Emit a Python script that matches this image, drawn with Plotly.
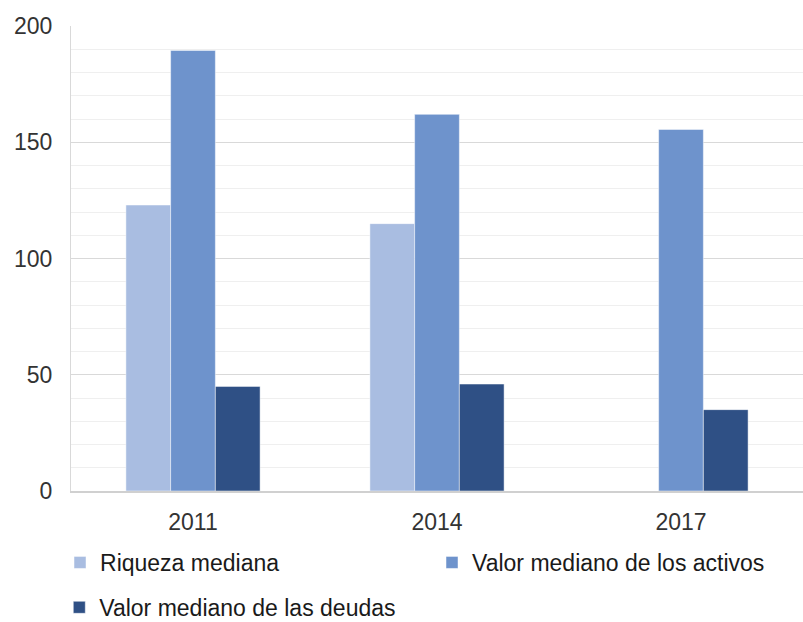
import plotly.graph_objects as go

years = ["2011", "2014", "2017"]
riqueza = [123, 115, None]
activos = [189.5, 162, 155.5]
deudas = [45, 46, 35]

names = ["Riqueza mediana", "Valor mediano de los activos", "Valor mediano de las deudas"]
colors = ["#A9BDE1", "#6E93CC", "#2F5085"]

FONT = "Liberation Sans, Arial, sans-serif"

fig = go.Figure()
for vals, name, col, lg in zip([riqueza, activos, deudas], names, colors, ["legend", "legend", "legend2"]):
    fig.add_trace(go.Bar(
        x=years, y=vals, name=name, legend=lg,
        marker=dict(color=col, line=dict(color="rgba(255,255,255,0.6)", width=0.8)),
    ))

fig.update_layout(
    width=803, height=622,
    margin=dict(l=71, r=0, t=26, b=131, autoexpand=False),
    paper_bgcolor="white", plot_bgcolor="white",
    barmode="group", bargap=0.45, bargroupgap=0,
    font=dict(family=FONT, size=23, color="#333333"),
    showlegend=True,
    legend=dict(orientation="h", x=-0.015, xanchor="left", y=-0.1075, yanchor="top",
                entrywidth=327, entrywidthmode="pixels",
                font=dict(size=23, color="#1a1a1a"), traceorder="normal",
                itemwidth=30, bgcolor="rgba(0,0,0,0)"),
    legend2=dict(orientation="h", x=-0.016, xanchor="left", y=-0.204, yanchor="top",
                 font=dict(size=23, color="#1a1a1a"), itemwidth=30, bgcolor="rgba(0,0,0,0)"),
)
fig.update_yaxes(
    range=[0, 200], dtick=50, tick0=0, automargin=False,
    showgrid=True, gridcolor="#d9d9d9", gridwidth=1,
    minor=dict(dtick=10, showgrid=True, gridcolor="#efefef", gridwidth=1),
    showline=True, linecolor="#d9d9d9", linewidth=1,
    zeroline=False, ticks="", ticklabelstandoff=13,
    tickfont=dict(size=23, color="#333333"),
)
fig.update_xaxes(
    showline=True, linecolor="#d0d0d0", linewidth=1.5, automargin=False,
    ticks="", ticklabelstandoff=10,
    tickfont=dict(size=23, color="#333333"),
)

fig.write_html("out.html", config={"displayModeBar": False},
               post_script="document.body.style.margin='0';")
